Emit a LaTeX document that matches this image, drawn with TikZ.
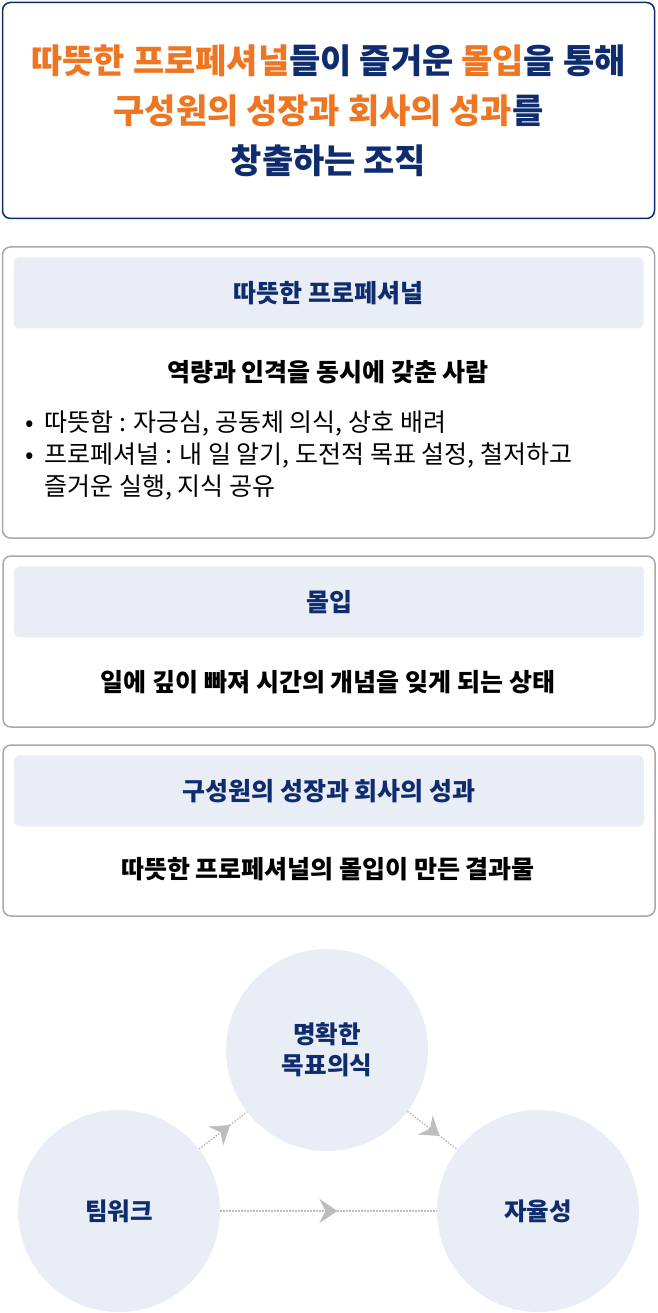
\documentclass[tikz,border=0pt]{standalone}
\usepackage{fontspec}
\setmainfont{Noto Sans CJK KR}
\usetikzlibrary{arrows.meta, positioning, decorations.markings}

\definecolor{navy}{HTML}{0F2D6E}
\definecolor{accent}{HTML}{EE7623}
\definecolor{band}{HTML}{E9EDF6}
\definecolor{boxgray}{HTML}{A8A8A8}
\definecolor{arrowgray}{HTML}{BDBDBD}

\begin{document}
\begin{tikzpicture}[x=1pt, y=-1pt, >=Stealth]
    % Styles
    \tikzstyle{panel} = [rectangle, draw=boxgray, line width=1.5pt, rounded corners=8pt, minimum width=652pt, inner sep=0pt]
    \tikzstyle{head} = [rectangle, fill=band, rounded corners=5pt, minimum width=630pt, minimum height=71pt, text=navy, font=\fontsize{25}{30}\selectfont\bfseries]
    \tikzstyle{desc} = [inner sep=0pt, text=black, font=\fontsize{25}{30}\selectfont\bfseries]
    \tikzstyle{bubble} = [circle, fill=band, minimum size=202pt, inner sep=0pt, align=center, text=navy, font=\fontsize{24.5}{31}\selectfont\bfseries]
    \tikzstyle{flow} = [draw=arrowgray, line width=1.5pt, dash pattern=on 1.5pt off 1.5pt, postaction={decorate},
        decoration={markings, mark=at position 0.5 with {\pgftransformxshift{9pt}\arrow{Stealth[length=18pt, width=24pt, inset=6pt, color=arrowgray]}}}]

    \useasboundingbox (0,0) rectangle (657,1313);

    % Title
    \node[rectangle, draw=navy, line width=1.5pt, rounded corners=8pt, minimum width=652pt, minimum height=216pt,
        align=center, text=navy, font=\fontsize{34}{50}\selectfont\bfseries] (title) at (328.5,110.5)
        {{\color{accent}따뜻한 프로페셔널}들이 즐거운 {\color{accent}몰입}을 통해\\
         {\color{accent}구성원의 성장과 회사의 성과}를\\
         창출하는 조직};

    % Panels
    \node[panel, minimum height=291pt] (warmbox) at (328.5,392.5) {};
    \node[head, below=11pt of warmbox.north] (warmhead) {따뜻한 프로페셔널};
    \node[desc] (warmdesc) at (328,372) {역량과 인격을 동시에 갖춘 사람};
    \node[anchor=west, inner sep=0pt, font=\fontsize{25}{32}\selectfont] (warmlist) at (25,457)
        {\begin{tabular}{@{}l@{\hspace{11pt}}l@{}}
         • & 따뜻함 : 자긍심, 공동체 의식, 상호 배려\\
         • & 프로페셔널 : 내 일 알기, 도전적 목표 설정, 철저하고\\
           & 즐거운 실행, 지식 공유
         \end{tabular}};

    \node[panel, minimum height=171pt] (flowbox) at (329,641.5) {};
    \node[head, below=11pt of flowbox.north] (flowhead) {몰입};
    \node[desc] (flowdesc) at (328,682) {일에 깊이 빠져 시간의 개념을 잊게 되는 상태};

    \node[panel, minimum height=171pt] (growbox) at (329,830.5) {};
    \node[head, below=11pt of growbox.north] (growhead) {구성원의 성장과 회사의 성과};
    \node[desc] (growdesc) at (328,869) {따뜻한 프로페셔널의 몰입이 만든 결과물};

    % Cycle
    \node[bubble] (goal) at (327,1050) {명확한\\목표의식};
    \node[bubble] (team) at (119,1211) {팀워크};
    \node[bubble] (auto) at (538,1211) {자율성};

    \draw[flow] (team) -- (goal);
    \draw[flow] (goal) -- (auto);
    \draw[flow] (team) -- (auto);

\end{tikzpicture}
\end{document}
